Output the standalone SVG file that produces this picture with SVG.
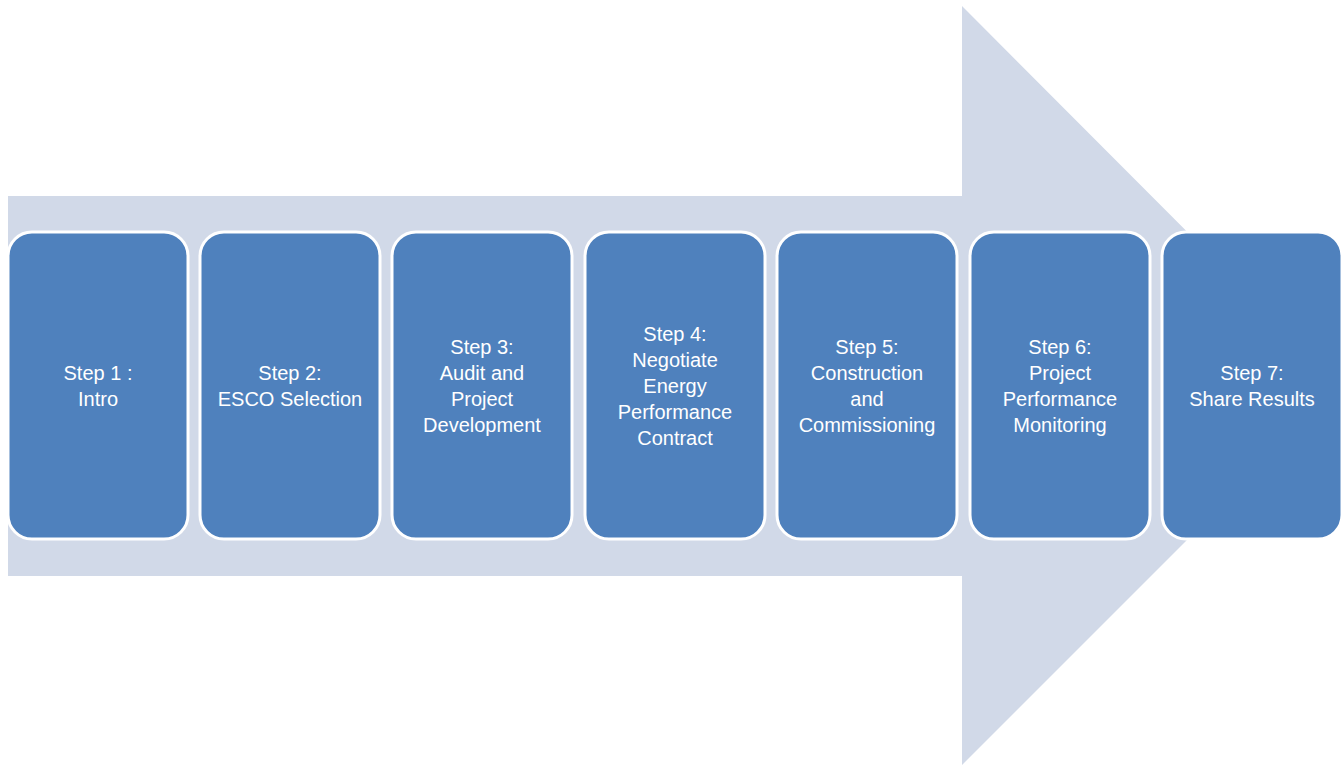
<svg xmlns="http://www.w3.org/2000/svg" width="1342" height="766" viewBox="0 0 1342 766">
<style>
.box{fill:#4F81BD;stroke:#FFFFFF;stroke-width:3}
.lbl{fill:#FFFFFF;font-family:"Liberation Sans",Arial,sans-serif;font-size:20px;text-anchor:middle}
</style>
<rect width="1342" height="766" fill="#FFFFFF"/>
<g id="arrow">
<polygon points="8,196 962,196 962,6 1341,386 962,765 962,576 8,576" fill="#D1D9E8"/>
</g>
<g id="connectors"></g>
<g id="step1"><rect class="box" x="8" y="232" width="180" height="307" rx="24"/>
<text class="lbl"><tspan x="98" y="380">Step 1 :</tspan><tspan x="98" y="406">Intro</tspan></text></g>
<g id="step2"><rect class="box" x="200" y="232" width="180" height="307" rx="24"/>
<text class="lbl"><tspan x="290" y="380">Step 2:</tspan><tspan x="290" y="406">ESCO Selection</tspan></text></g>
<g id="step3"><rect class="box" x="392" y="232" width="180" height="307" rx="24"/>
<text class="lbl"><tspan x="482" y="354">Step 3:</tspan><tspan x="482" y="380">Audit and</tspan><tspan x="482" y="406">Project</tspan><tspan x="482" y="432">Development</tspan></text></g>
<g id="step4"><rect class="box" x="585" y="232" width="180" height="307" rx="24"/>
<text class="lbl"><tspan x="675" y="341">Step 4:</tspan><tspan x="675" y="367">Negotiate</tspan><tspan x="675" y="393">Energy</tspan><tspan x="675" y="419">Performance</tspan><tspan x="675" y="445">Contract</tspan></text></g>
<g id="step5"><rect class="box" x="777" y="232" width="180" height="307" rx="24"/>
<text class="lbl"><tspan x="867" y="354">Step 5:</tspan><tspan x="867" y="380">Construction</tspan><tspan x="867" y="406">and</tspan><tspan x="867" y="432">Commissioning</tspan></text></g>
<g id="step6"><rect class="box" x="970" y="232" width="180" height="307" rx="24"/>
<text class="lbl"><tspan x="1060" y="354">Step 6:</tspan><tspan x="1060" y="380">Project</tspan><tspan x="1060" y="406">Performance</tspan><tspan x="1060" y="432">Monitoring</tspan></text></g>
<g id="step7"><rect class="box" x="1162" y="232" width="180" height="307" rx="24"/>
<text class="lbl"><tspan x="1252" y="380">Step 7:</tspan><tspan x="1252" y="406">Share Results</tspan></text></g>
</svg>
